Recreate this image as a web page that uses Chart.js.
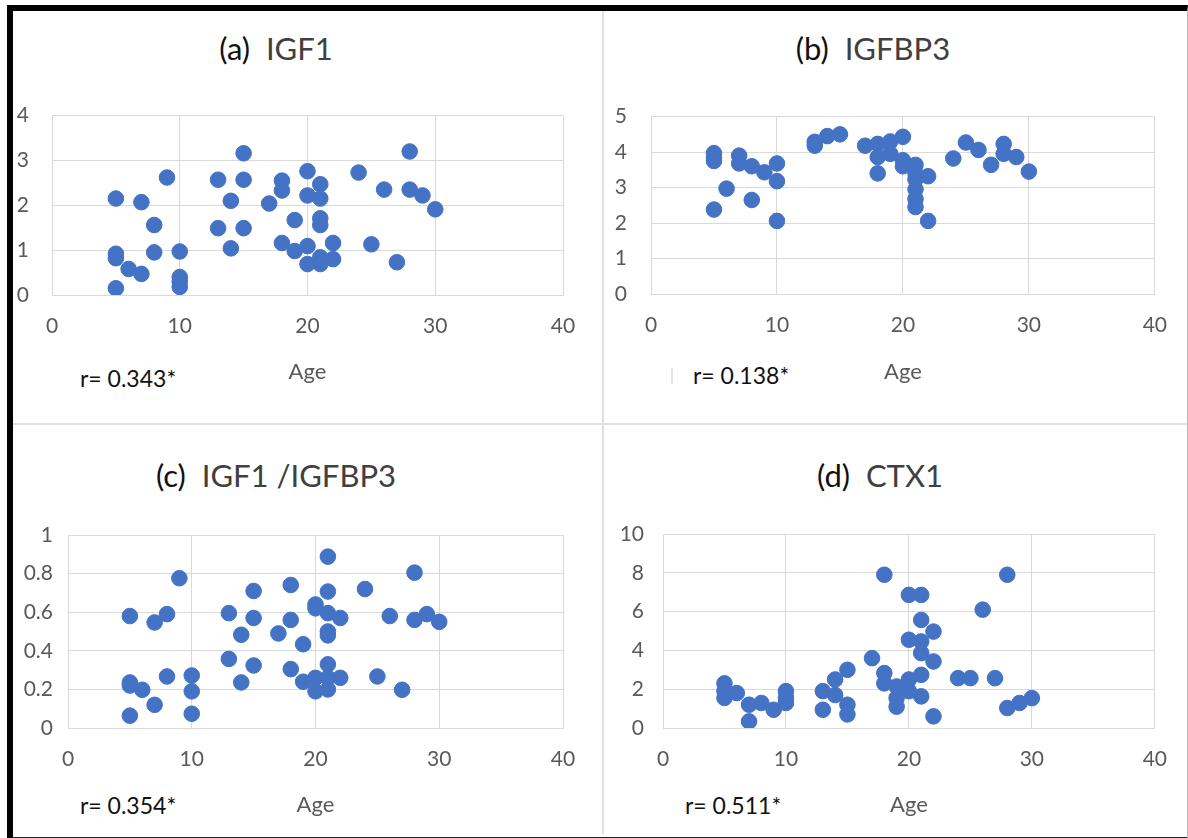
<!DOCTYPE html>
<html>
<head>
<meta charset="utf-8">
<script src="https://cdn.jsdelivr.net/npm/chart.js@4.4.0/dist/chart.umd.min.js"></script>
<style>
  body { margin: 0; background: #fff; font-family: Lato, "Open Sans", sans-serif; }
  #page { position: relative; width: 1188px; height: 838px; overflow: hidden; }
  .frame { position: absolute; left: 7px; top: 5px; width: 1174px; height: 826px;
           border-top: 6px solid #000; border-left: 6px solid #000;
           border-bottom: 3px solid #222; border-right: 1px solid #bbb; }
  .vline { position: absolute; left: 602px; top: 11px; width: 2px; height: 823px; background: #e0e0e0; }
  .hline { position: absolute; left: 13px; top: 423px; width: 1174px; height: 2px; background: #e0e0e0; }
  .mark { position: absolute; left: 671px; top: 368px; width: 2px; height: 16px; background: #e6e6e6; }
  canvas { position: absolute; }
  .title { position: absolute; width: 400px; text-align: center; font-size: 31px; color: #404040; line-height: 36px; white-space: pre; }
  .title b { font-weight: normal; color: #111; }
  .rtxt { position: absolute; font-size: 23px; color: #111; line-height: 26px; white-space: pre; }
</style>
</head>
<body>
<div id="page">
  <div class="frame"></div>
  <div class="vline"></div>
  <div class="hline"></div>
  <div class="mark"></div>

  <div class="title" style="left:76px; top:30px;"><b>(a)</b>  IGF1</div>
  <div class="title" style="left:673px; top:30px;"><b>(b)</b>  IGFBP3</div>
  <div class="title" style="left:76px; top:457px;"><b>(c)</b>  IGF1 /IGFBP3</div>
  <div class="title" style="left:680px; top:457px;"><b>(d)</b>  CTX1</div>

  <div class="rtxt" style="left:80px; top:365px;">r= 0.343*</div>
  <div class="rtxt" style="left:693px; top:362px;">r= 0.138*</div>
  <div class="rtxt" style="left:80px; top:792px;">r= 0.354*</div>
  <div class="rtxt" style="left:685px; top:792px;">r= 0.511*</div>

  <canvas id="chartA" width="589" height="340" style="left:13px; top:80px;"></canvas>
  <canvas id="chartB" width="582" height="340" style="left:604px; top:80px;"></canvas>
  <canvas id="chartC" width="589" height="334" style="left:13px; top:500px;"></canvas>
  <canvas id="chartD" width="582" height="334" style="left:604px; top:500px;"></canvas>
</div>

<script>
// x ticks shared by all four panels
const ageTicks = [0, 10, 20, 30, 40];

// (a) IGF1
const ageA = [5, 5, 5, 5, 6, 7, 7, 8, 8, 9, 10, 10, 10, 10, 13, 13, 14, 14, 15, 15, 15, 17, 18, 18, 18, 19, 19,
  20, 20, 20, 20, 21, 21, 21, 21, 21, 21, 22, 22, 24, 25, 26, 27, 28, 28, 29, 30];
const igf1 = [2.15, 0.92, 0.82, 0.15, 0.58, 2.07, 0.47, 1.56, 0.95, 2.62, 0.97, 0.4, 0.3, 0.18, 2.57, 1.49, 2.1, 1.04,
  3.16, 2.57, 1.49, 2.04, 2.55, 2.33, 1.16, 1.67, 0.98, 2.76, 2.22, 1.09, 0.69, 2.47, 2.15, 1.71, 1.56, 0.84, 0.69,
  1.16, 0.8, 2.73, 1.13, 2.35, 0.73, 3.2, 2.35, 2.22, 1.91];
const ticksA = [0, 1, 2, 3, 4];

// (b) IGFBP3
const ageB = [5, 5, 5, 5, 6, 7, 7, 8, 8, 9, 10, 10, 10, 13, 13, 14, 15, 17, 18, 18, 18, 19, 19, 20, 20, 20,
  21, 21, 21, 21, 21, 21, 22, 22, 24, 25, 26, 27, 28, 28, 29, 30];
const igfbp3 = [3.97, 3.84, 3.75, 2.38, 2.97, 3.9, 3.68, 3.6, 2.65, 3.43, 3.68, 3.18, 2.06, 4.29, 4.18, 4.45, 4.5,
  4.18, 4.23, 3.86, 3.4, 4.3, 3.95, 4.43, 3.77, 3.6, 3.64, 3.4, 3.23, 2.95, 2.68, 2.45, 3.32, 2.06, 3.82, 4.27,
  4.06, 3.64, 4.23, 3.95, 3.86, 3.45];
const ticksB = [0, 1, 2, 3, 4, 5];

// (c) IGF1 / IGFBP3
const ageC = [5, 5, 5, 5, 6, 7, 7, 8, 8, 9, 10, 10, 10, 13, 13, 14, 14, 15, 15, 15, 17, 18, 18, 18, 19, 19,
  20, 20, 20, 20, 21, 21, 21, 21, 21, 21, 21, 21, 22, 22, 24, 25, 26, 27, 28, 28, 29, 30];
const ratio = [0.58, 0.236, 0.22, 0.064, 0.198, 0.547, 0.12, 0.59, 0.267, 0.776, 0.272, 0.19, 0.074, 0.595, 0.358,
  0.483, 0.236, 0.71, 0.57, 0.324, 0.49, 0.741, 0.56, 0.305, 0.434, 0.24, 0.64, 0.62, 0.26, 0.19, 0.888, 0.707,
  0.595, 0.5, 0.48, 0.33, 0.26, 0.2, 0.57, 0.26, 0.72, 0.267, 0.58, 0.198, 0.805, 0.56, 0.59, 0.55];
const ticksC = [0, 0.2, 0.4, 0.6, 0.8, 1];

// (d) CTX1
const ageD = [5, 5, 5, 6, 7, 7, 8, 9, 10, 10, 10, 13, 13, 14, 14, 15, 15, 15, 17, 18, 18, 18, 19, 19, 19,
  20, 20, 20, 20, 21, 21, 21, 21, 21, 21, 22, 22, 22, 24, 25, 26, 27, 28, 28, 29, 30];
const ctx1 = [2.3, 1.9, 1.55, 1.8, 1.2, 0.34, 1.29, 0.94, 1.9, 1.55, 1.29, 1.9, 0.94, 2.5, 1.7, 3.0, 1.2, 0.7, 3.6,
  7.9, 2.83, 2.3, 2.14, 1.54, 1.1, 6.86, 4.55, 2.5, 1.9, 6.86, 5.57, 4.46, 3.86, 2.74, 1.63, 4.97, 3.43, 0.6,
  2.57, 2.57, 6.1, 2.57, 7.9, 1.03, 1.29, 1.54];
const ticksD = [0, 2, 4, 6, 8, 10];

const blue = "#4472C4";
const grid = "#d9d9d9";
const tickColor = "#595959";

// box = canvas position on the page, plot = wanted plot area on the page
function makePanel(id, xs, ys, yTicks, box, plot, ageY, yPad) {
    const yW = plot.x0 - box.left;
    const padR = box.left + box.width - plot.x1;
    const padT = plot.yTop - box.top;
    const xH = box.top + box.height - plot.yBot;
    const ageSize = 22;
    const ageLh = ageSize * 1.2;
    const ageBottom = box.top + box.height - ageY - ageLh / 2;

    return new Chart(document.getElementById(id), {
        type: "scatter",
        data: {
            datasets: [{
                data: xs.map((x, i) => ({ x: x, y: ys[i] })),
                backgroundColor: blue,
                borderColor: blue,
                pointRadius: 7.8,
                pointHoverRadius: 7.8,
            }],
        },
        options: {
            responsive: false,
            animation: false,
            events: [],
            layout: { padding: { left: 0, right: padR, top: padT, bottom: 0 } },
            plugins: { legend: false, tooltip: { enabled: false } },
            scales: {
                x: {
                    type: "linear",
                    min: 0,
                    max: 40,
                    afterBuildTicks: (s) => { s.ticks = ageTicks.map((v) => ({ value: v })); },
                    afterFit: (s) => { s.height = xH; },
                    grid: { color: grid, drawTicks: false },
                    border: { color: grid },
                    ticks: { color: tickColor, font: { family: "Lato", size: 21 }, padding: 19, maxRotation: 0,
                             callback: (v) => String(v) },
                    title: {
                        display: true,
                        text: "Age",
                        color: tickColor,
                        font: { family: "Lato", size: ageSize },
                        padding: { top: 0, bottom: ageBottom },
                    },
                },
                y: {
                    min: yTicks[0],
                    max: yTicks[yTicks.length - 1],
                    afterBuildTicks: (s) => { s.ticks = yTicks.map((v) => ({ value: v })); },
                    afterFit: (s) => { s.width = yW; },
                    grid: { color: grid, drawTicks: false },
                    border: { color: grid },
                    ticks: { color: tickColor, font: { family: "Lato", size: 21 }, padding: yPad,
                             callback: (v) => String(v) },
                },
            },
        },
    });
}

makePanel("chartA", ageA, igf1, ticksA,
    { left: 13, top: 80, width: 589, height: 340 }, { x0: 52, x1: 563, yTop: 112, yBot: 295 }, 372, 23);
makePanel("chartB", ageB, igfbp3, ticksB,
    { left: 604, top: 80, width: 582, height: 340 }, { x0: 651, x1: 1159, yTop: 111, yBot: 294 }, 372, 24);
makePanel("chartC", ageC, ratio, ticksC,
    { left: 13, top: 500, width: 589, height: 334 }, { x0: 68, x1: 563, yTop: 535, yBot: 728 }, 805, 15);
makePanel("chartD", ageD, ctx1, ticksD,
    { left: 604, top: 500, width: 582, height: 334 }, { x0: 663, x1: 1157, yTop: 534, yBot: 728 }, 805, 19);
</script>
</body>
</html>
